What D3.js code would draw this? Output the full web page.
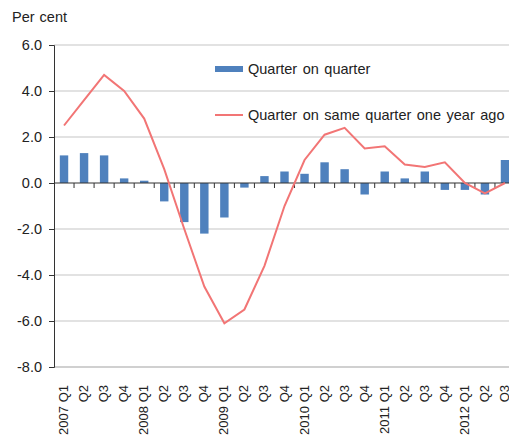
<!DOCTYPE html>
<html>
<head>
<meta charset="utf-8">
<script src="https://cdn.jsdelivr.net/npm/d3@7/dist/d3.min.js"></script>
<style>
  html, body { margin: 0; padding: 0; background: #fff; }
  svg { display: block; font-family: "Liberation Sans", Arial, sans-serif; }
</style>
</head>
<body>
<div id="chart"></div>
<script>
const years    = [2007, 2008, 2009, 2010, 2011, 2012];
const quarters = ["Q1", "Q2", "Q3", "Q4"];
const periods  = [];
years.forEach(yr => quarters.forEach(q => {
  if (!(yr === 2012 && q === "Q4")) periods.push({ year: yr, q: q });
}));

// Quarter on quarter (bars)
const qoq = [1.2, 1.3, 1.2, 0.2, 0.1, -0.8, -1.7, -2.2,
             -1.5, -0.2, 0.3, 0.5, 0.4, 0.9, 0.6, -0.5,
             0.5, 0.2, 0.5, -0.3, -0.3, -0.5, 1.0];
// Quarter on same quarter one year ago (line)
const yoy = [2.5, 3.6, 4.7, 4.0, 2.8, 0.6, -2.0, -4.5,
             -6.1, -5.5, -3.6, -1.0, 1.0, 2.1, 2.4, 1.5,
             1.6, 0.8, 0.7, 0.9, 0.0, -0.45, 0.0];

const yTicks = [-8, -6, -4, -2, 0, 2, 4, 6];
const legendLabels = ["Quarter on quarter", "Quarter on same quarter one year ago"];

const W = 509, H = 445;
const BAR_COLOR  = "#4f81bd";
const LINE_COLOR = "#f27575";
const GRID       = "#d9d9d9";

const data = periods.map((p, i) => ({
  key: p.year + " " + p.q,
  label: p.q === "Q1" ? p.year + " " + p.q : p.q,
  qoq: qoq[i],
  yoy: yoy[i]
}));

const x = d3.scaleBand()
  .domain(data.map(d => d.key))
  .range([54, 515])
  .padding(0);

const y = d3.scaleLinear()
  .domain([-8, 6])
  .range([367, 45]);

const svg = d3.select("#chart").append("svg")
  .attr("width", W)
  .attr("height", H);

// Title
svg.append("text")
  .attr("x", 12).attr("y", 22)
  .attr("font-size", 14.5).attr("fill", "#222")
  .attr("word-spacing", 1)
  .text("Per cent");

// Gridlines
svg.append("g")
  .selectAll("line")
  .data(yTicks.filter(t => t !== 0))
  .join("line")
    .attr("x1", 54).attr("x2", W)
    .attr("y1", d => y(d)).attr("y2", d => y(d))
    .attr("stroke", d => d === -8 ? "#c0c0c0" : GRID)
    .attr("stroke-width", 1.5);

// Y axis
const yAxis = svg.append("g")
  .attr("transform", "translate(54,0)")
  .call(d3.axisLeft(y).tickValues(yTicks).tickSize(5).tickPadding(7)
    .tickFormat(d => d.toFixed(1)));
yAxis.select(".domain").attr("stroke", "#333");
yAxis.selectAll(".tick line").attr("stroke", "#333");
yAxis.selectAll(".tick text")
  .attr("font-size", 14.5)
  .attr("font-family", "Liberation Sans, Arial, sans-serif")
  .attr("fill", "#222");

// Bars
const bw = x.bandwidth();
const barW = bw * 0.42;
svg.append("g")
  .selectAll("rect")
  .data(data)
  .join("rect")
    .attr("x", d => x(d.key) + (bw - barW) / 2)
    .attr("width", barW)
    .attr("y", d => y(Math.max(0, d.qoq)))
    .attr("height", d => Math.abs(y(d.qoq) - y(0)))
    .attr("fill", BAR_COLOR);

// Zero line with category ticks
svg.append("line")
  .attr("x1", 54).attr("x2", W)
  .attr("y1", y(0)).attr("y2", y(0))
  .attr("stroke", "#333").attr("stroke-width", 1.2);

svg.append("g")
  .selectAll("line")
  .data(data.slice(1))
  .join("line")
    .attr("x1", d => x(d.key)).attr("x2", d => x(d.key))
    .attr("y1", y(0)).attr("y2", y(0) + 5)
    .attr("stroke", "#333");

// Year-on-year line
const line = d3.line()
  .x(d => x(d.key) + bw / 2)
  .y(d => y(d.yoy));

svg.append("path")
  .datum(data)
  .attr("fill", "none")
  .attr("stroke", LINE_COLOR)
  .attr("stroke-width", 2)
  .attr("d", line);

// X labels
svg.append("g")
  .selectAll("text")
  .data(data)
  .join("text")
    .attr("transform", d => `translate(${x(d.key) + bw / 2 + 4},385) rotate(-90)`)
    .attr("text-anchor", "end")
    .attr("font-size", 13)
    .attr("fill", "#222")
    .text(d => d.label);

// Legend
const leg = svg.append("g");
leg.append("rect")
  .attr("x", 215).attr("y", 66)
  .attr("width", 28).attr("height", 6)
  .attr("fill", BAR_COLOR);
leg.append("text")
  .attr("x", 248).attr("y", 74)
  .attr("font-size", 14.5).attr("fill", "#222")
  .attr("word-spacing", 1.5)
  .text(legendLabels[0]);
leg.append("line")
  .attr("x1", 215).attr("x2", 243)
  .attr("y1", 115).attr("y2", 115)
  .attr("stroke", LINE_COLOR).attr("stroke-width", 2);
leg.append("text")
  .attr("x", 248).attr("y", 120)
  .attr("font-size", 14.5).attr("fill", "#222")
  .attr("word-spacing", 1.5)
  .text(legendLabels[1]);
</script>
</body>
</html>
